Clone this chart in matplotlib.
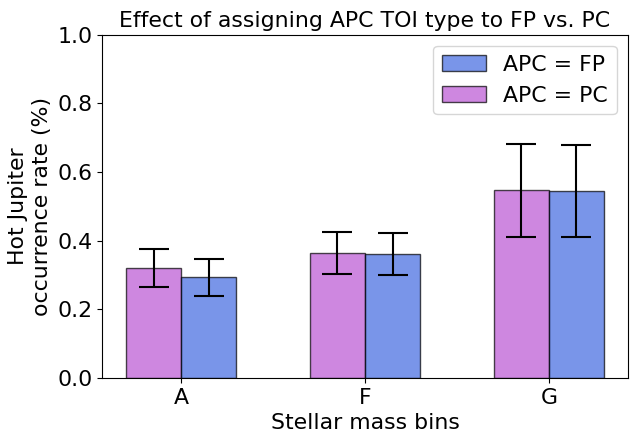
import matplotlib.pyplot as plt
import numpy as np

bins = ['A', 'F', 'G']
pc_rate = [0.320, 0.363, 0.548]
pc_lo = [0.265, 0.303, 0.412]
pc_hi = [0.375, 0.425, 0.682]
fp_rate = [0.295, 0.360, 0.546]
fp_lo = [0.240, 0.300, 0.410]
fp_hi = [0.348, 0.421, 0.680]

pc_err = [np.array(pc_rate) - np.array(pc_lo), np.array(pc_hi) - np.array(pc_rate)]
fp_err = [np.array(fp_rate) - np.array(fp_lo), np.array(fp_hi) - np.array(fp_rate)]

plt.rcParams['font.size'] = 15.8
fig, ax = plt.subplots(figsize=(6.31, 4.41), dpi=100)

x = np.arange(len(bins))
w = 0.3
ax.bar(x - w/2, pc_rate, w, yerr=pc_err, color='mediumorchid', alpha=0.7,
       edgecolor='black', linewidth=1.0, capsize=11,
       error_kw=dict(elinewidth=1.5, capthick=1.5), label='APC = PC')
ax.bar(x + w/2, fp_rate, w, yerr=fp_err, color='royalblue', alpha=0.7,
       edgecolor='black', linewidth=1.0, capsize=11,
       error_kw=dict(elinewidth=1.5, capthick=1.5), label='APC = FP')

ax.set_xticks(x)
ax.set_xticklabels(bins)
ax.set_ylim(0, 1)
ax.set_xlabel('Stellar mass bins')
ax.set_ylabel('Hot Jupiter\noccurrence rate (%)')
ax.set_title('Effect of assigning APC TOI type to FP vs. PC', fontsize=15.8)
h, l = ax.get_legend_handles_labels()
ax.legend(h[::-1], l[::-1], loc='upper right')

fig.subplots_adjust(left=0.162, right=0.995, top=0.921, bottom=0.143)
plt.savefig('out.png', dpi=100)
